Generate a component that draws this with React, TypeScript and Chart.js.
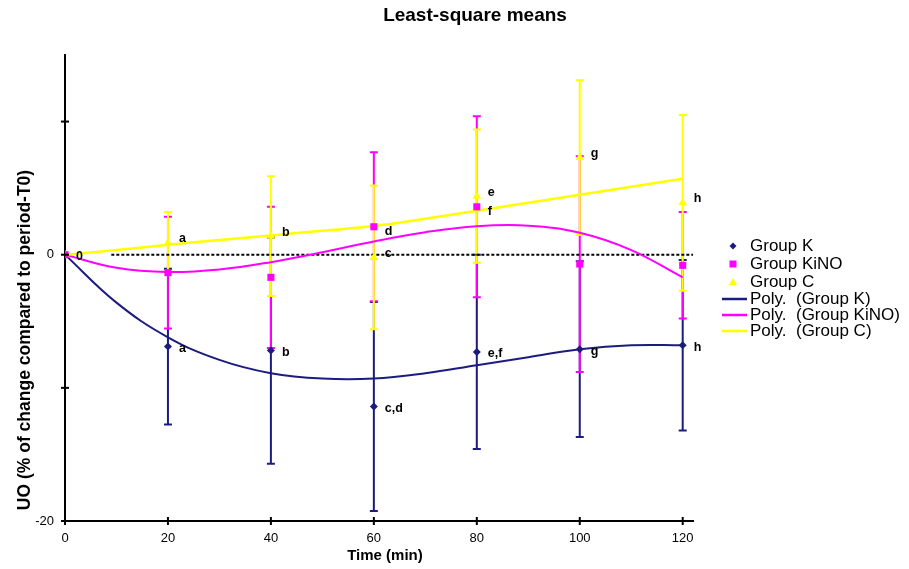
import { useEffect, useRef } from 'react';
import { Chart, registerables } from 'chart.js';
Chart.register(...registerables);

const times = [0, 20, 40, 60, 80, 100, 120];
const groupK = [0, -6.9, -7.2, -11.4, -7.3, -7.1, -6.8];
const groupKErr = [0, 5.85, 8.5, 7.85, 7.3, 6.6, 6.4];
const groupKiNO = [0, -1.35, -1.7, 2.1, 3.6, -0.7, -0.8];
const groupKiNOErr = [0, 4.2, 5.3, 5.6, 6.8, 8.1, 4.0];
const groupC = [0, 0.9, 1.4, -0.2, 4.4, 7.3, 3.9];
const groupCErr = [0, 2.3, 4.5, 5.4, 5.0, 5.8, 6.6];

const labelsK = ['0', 'a', 'b', 'c,d', 'e,f', 'g', 'h'];
const labelsKiNO = ['', '', '', 'd', 'f', '', ''];
const labelsC = ['', 'a', 'b', 'c', 'e', 'g', 'h'];

const trendTimes = [0, 10, 20, 30, 40, 50, 60, 70, 80, 90, 100, 110, 120];
const trendK = [0, -3.6, -6.2, -7.9, -8.9, -9.3, -9.3, -8.9, -8.3, -7.7, -7.1, -6.8, -6.8];
const trendKiNO = [0, -0.98, -1.3, -1.11, -0.56, 0.19, 1.0, 1.69, 2.14, 2.18, 1.65, 0.35, -1.7];
const trendC = [0, 0.35, 0.75, 1.1, 1.45, 1.8, 2.15, 2.7, 3.3, 3.9, 4.5, 5.1, 5.7];

const refX = [9, 122];
const refY = [0, 0];

const xTicks = [0, 20, 40, 60, 80, 100, 120];
const yTicks = [-20, -10, 0, 10];
const yLabeled = [0, -20];

const NAVY = '#1c1c80';
const MAGENTA = '#ff00ff';
const YELLOW = '#ffff00';
const FONT = '"Liberation Sans", Arial, sans-serif';

const legendItems = [
  { text: 'Group K', kind: 'marker', style: 'rectRot', color: NAVY },
  { text: 'Group KiNO', kind: 'marker', style: 'rect', color: MAGENTA },
  { text: 'Group C', kind: 'marker', style: 'triangle', color: YELLOW },
  { text: 'Poly.  (Group K)', kind: 'line', style: '', color: NAVY },
  { text: 'Poly.  (Group KiNO)', kind: 'line', style: '', color: MAGENTA },
  { text: 'Poly.  (Group C)', kind: 'line', style: '', color: YELLOW },
];

const pts = (xs: number[], ys: number[]) => xs.map((x, i) => ({ x, y: ys[i] }));

export default function App() {
  const ref = useRef<HTMLCanvasElement | null>(null);
  useEffect(() => {
    document.body.style.margin = '0';
    const canvas = ref.current;
    if (!canvas) return;

    const errorBars = {
      id: 'errorBars',
      beforeDatasetsDraw(chart: any) {
        const { ctx, scales } = chart;
        const xs = scales.x, ys = scales.y;
        const sets = [
          { v: groupK, e: groupKErr, c: NAVY },
          { v: groupKiNO, e: groupKiNOErr, c: MAGENTA },
          { v: groupC, e: groupCErr, c: YELLOW },
        ];
        ctx.save();
        ctx.lineWidth = 2;
        for (const s of sets) {
          ctx.strokeStyle = s.c;
          times.forEach((t, i) => {
            if (!s.e[i]) return;
            const px = xs.getPixelForValue(t);
            const top = ys.getPixelForValue(s.v[i] + s.e[i]);
            const bot = ys.getPixelForValue(s.v[i] - s.e[i]);
            ctx.beginPath();
            ctx.moveTo(px, top);
            ctx.lineTo(px, bot);
            ctx.moveTo(px - 4, top);
            ctx.lineTo(px + 4, top);
            ctx.moveTo(px - 4, bot);
            ctx.lineTo(px + 4, bot);
            ctx.stroke();
          });
        }
        ctx.restore();
      },
    };

    const extras = {
      id: 'extras',
      afterDraw(chart: any) {
        const { ctx, scales, chartArea } = chart;
        const xs = scales.x, ys = scales.y;
        ctx.save();
        ctx.strokeStyle = '#000';
        ctx.lineWidth = 2;
        for (const v of yTicks) {
          const py = ys.getPixelForValue(v);
          ctx.beginPath();
          ctx.moveTo(chartArea.left - 4, py);
          ctx.lineTo(chartArea.left + 4, py);
          ctx.stroke();
        }
        for (const v of xTicks) {
          const px = xs.getPixelForValue(v);
          ctx.beginPath();
          ctx.moveTo(px, chartArea.bottom - 4);
          ctx.lineTo(px, chartArea.bottom + 4);
          ctx.stroke();
        }
        ctx.fillStyle = '#000';
        ctx.font = `bold 12.5px ${FONT}`;
        ctx.textAlign = 'left';
        ctx.textBaseline = 'middle';
        const lab = [
          { v: groupK, l: labelsK, dy: 2 },
          { v: groupKiNO, l: labelsKiNO, dy: 5 },
          { v: groupC, l: labelsC, dy: -4 },
        ];
        for (const s of lab) {
          times.forEach((t, i) => {
            if (!s.l[i]) return;
            ctx.fillText(s.l[i], xs.getPixelForValue(t) + 11, ys.getPixelForValue(s.v[i]) + s.dy);
          });
        }
        ctx.textAlign = 'center';
        ctx.font = `bold 19px ${FONT}`;
        ctx.fillText('Least-square means', 475, 16);
        ctx.font = `bold 15px ${FONT}`;
        ctx.fillText('Time (min)', 385, 556);
        ctx.save();
        ctx.translate(25, 340);
        ctx.rotate(-Math.PI / 2);
        ctx.font = `bold 17.5px ${FONT}`;
        ctx.fillText('UO (% of change compared to period-T0)', 0, 0);
        ctx.restore();
        const rows = [246, 264, 282, 299, 315, 331];
        legendItems.forEach((it, i) => {
          const y = rows[i];
          if (it.kind === 'line') {
            ctx.strokeStyle = it.color;
            ctx.lineWidth = 2.5;
            ctx.beginPath();
            ctx.moveTo(722, y);
            ctx.lineTo(747, y);
            ctx.stroke();
          } else {
            ctx.fillStyle = it.color;
            ctx.beginPath();
            if (it.style === 'rectRot') {
              ctx.moveTo(733, y - 3.5);
              ctx.lineTo(736.5, y);
              ctx.lineTo(733, y + 3.5);
              ctx.lineTo(729.5, y);
            } else if (it.style === 'rect') {
              ctx.rect(729.5, y - 3.5, 7, 7);
            } else {
              ctx.moveTo(733, y - 4);
              ctx.lineTo(737, y + 3);
              ctx.lineTo(729, y + 3);
            }
            ctx.closePath();
            ctx.fill();
          }
          ctx.fillStyle = '#000';
          ctx.font = `17px ${FONT}`;
          ctx.textAlign = 'left';
          ctx.textBaseline = 'middle';
          ctx.fillText(it.text, 750, y);
        });
        ctx.restore();
      },
    };

    const chart = new Chart(canvas, {
      type: 'scatter',
      data: {
        datasets: [
          {
            label: 'Group KiNO',
            data: pts(times, groupKiNO),
            pointStyle: 'rect',
            pointRadius: 5,
            backgroundColor: MAGENTA,
            borderColor: MAGENTA,
            borderWidth: 0,
            order: 0,
          },
          {
            label: 'Group C',
            data: pts(times, groupC),
            pointStyle: 'triangle',
            pointRadius: 5,
            backgroundColor: YELLOW,
            borderColor: YELLOW,
            borderWidth: 0,
            order: 1,
          },
          {
            label: 'Group K',
            data: pts(times, groupK),
            pointStyle: 'rectRot',
            pointRadius: 4,
            backgroundColor: NAVY,
            borderColor: NAVY,
            borderWidth: 0,
            order: 2,
          },
          {
            label: 'Poly. (Group C)',
            data: pts(trendTimes, trendC),
            showLine: true,
            pointRadius: 0,
            borderColor: YELLOW,
            borderWidth: 2.5,
            tension: 0.4,
            order: 3,
          },
          {
            label: 'Poly. (Group KiNO)',
            data: pts(trendTimes, trendKiNO),
            showLine: true,
            pointRadius: 0,
            borderColor: MAGENTA,
            borderWidth: 2,
            tension: 0.4,
            order: 4,
          },
          {
            label: 'Poly. (Group K)',
            data: pts(trendTimes, trendK),
            showLine: true,
            pointRadius: 0,
            borderColor: NAVY,
            borderWidth: 2,
            tension: 0.4,
            order: 5,
          },
          {
            label: 'ref',
            data: pts(refX, refY),
            showLine: true,
            pointRadius: 0,
            borderColor: '#000',
            borderWidth: 2,
            borderDash: [3, 2],
            order: 6,
          },
        ],
      },
      options: {
        responsive: false,
        animation: false,
        devicePixelRatio: 1,
        layout: { padding: { top: 55, right: 216, left: 0, bottom: 0 } },
        plugins: { legend: { display: false }, title: { display: false }, tooltip: { enabled: false } },
        events: [],
        scales: {
          x: {
            type: 'linear',
            min: 0,
            max: 122,
            afterBuildTicks: (s: any) => { s.ticks = xTicks.map((v) => ({ value: v })); },
            afterFit: (s: any) => { s.height = 48; },
            grid: { display: false },
            border: { display: true, color: '#000', width: 2 },
            ticks: { color: '#000', font: { size: 13, family: FONT }, padding: 2, maxRotation: 0 },
          },
          y: {
            type: 'linear',
            min: -20,
            max: 15,
            afterBuildTicks: (s: any) => { s.ticks = yTicks.map((v) => ({ value: v })); },
            afterFit: (s: any) => { s.width = 65; },
            grid: { display: false },
            border: { display: true, color: '#000', width: 2 },
            ticks: {
              color: '#000',
              font: { size: 13, family: FONT },
              padding: 3,
              callback: (v: any) => (yLabeled.includes(Number(v)) ? String(v) : ''),
            },
          },
        },
      },
      plugins: [errorBars, extras],
    } as any);
    return () => chart.destroy();
  }, []);

  return (
    <div style={{ width: 909, height: 569, background: '#fff' }}>
      <canvas ref={ref} width={909} height={569} style={{ width: 909, height: 569, display: 'block' }} />
    </div>
  );
}
